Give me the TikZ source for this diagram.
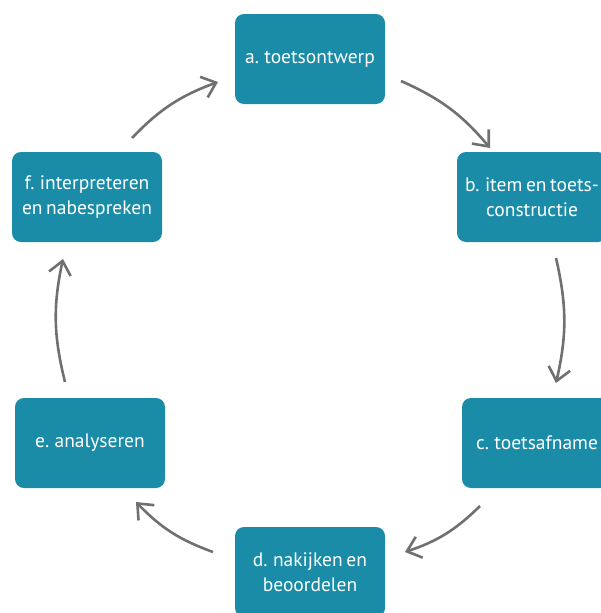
\documentclass[tikz,border=0pt]{standalone}
\usepackage{fontspec}
\setmainfont[WordSpace=0.7]{PT Sans}
\usetikzlibrary{arrows.meta}

\definecolor{boxteal}{RGB}{26,140,168}
\definecolor{arrowgray}{RGB}{112,112,112}

\tikzset{
  stage/.style={fill=boxteal, rounded corners=9pt, minimum width=150pt, minimum height=90pt,
    text=white, align=center, inner sep=0pt, font=\fontsize{19.5}{25}\selectfont},
  cycle/.style={draw=arrowgray, line width=2.6pt, -{Straight Barb[length=13pt,width=22pt,line width=2.6pt]}}
}

\begin{document}
\begin{tikzpicture}[x=1pt,y=-1pt]
            \useasboundingbox (0,0) rectangle (601,613);
            \clip (0,0) rectangle (601,613);
            % stages
            \node[stage] (a) at (310,59) {a. toetsontwerp};
            \node[stage] (b) at (532,197) {b. item en toets-\\constructie};
            \node[stage] (c) at (537,443) {c. toetsafname};
            \node[stage] (d) at (310,572) {d. nakijken en\\beoordelen};
            \node[stage] (e) at (90,443) {e. analyseren};
            \node[stage] (f) at (87,197) {f. interpreteren\\en nabespreken};
            % arrow ends
            \coordinate (ab1) at (401,81);  \coordinate (ab2) at (490,148);
            \coordinate (bc1) at (556,258); \coordinate (bc2) at (556,383);
            \coordinate (cd1) at (480,506); \coordinate (cd2) at (405,552);
            \coordinate (de1) at (213,552); \coordinate (de2) at (136,502);
            \coordinate (ef1) at (65,382);  \coordinate (ef2) at (63,259);
            \coordinate (fa1) at (132,138); \coordinate (fa2) at (218,82);
            \draw[cycle] (ab1) to[bend left=13] (ab2);
            \draw[cycle] (bc1) to[bend left=13] (bc2);
            \draw[cycle] (cd1) to[bend left=13] (cd2);
            \draw[cycle] (de1) to[bend left=13] (de2);
            \draw[cycle] (ef1) to[bend left=13] (ef2);
            \draw[cycle] (fa1) to[bend left=13] (fa2);
        \end{tikzpicture}
\end{document}
